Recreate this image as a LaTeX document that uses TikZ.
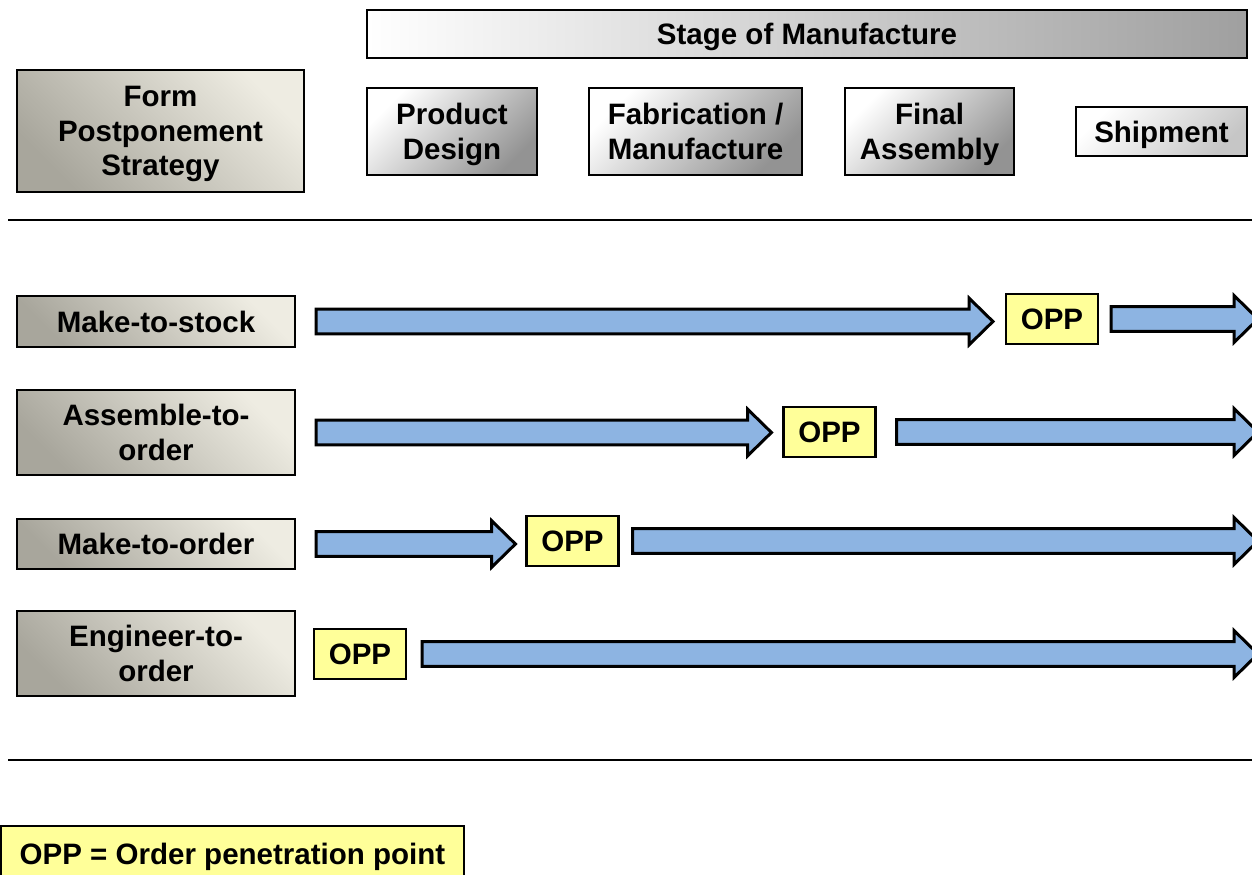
\documentclass[tikz,border=0pt]{standalone}
\usepackage{fontspec}
\setmainfont{Liberation Sans}
\usetikzlibrary{calc}

\definecolor{oppyellow}{RGB}{255,255,153}
\definecolor{flowblue}{RGB}{141,180,226}
\definecolor{beigelight}{RGB}{238,236,226}
\definecolor{beigedark}{RGB}{168,166,156}

% block arrow from one point to another (y taken from the start)
\newcommand{\flow}[2]{%
  \draw[flow] let \p1=(#1), \p2=(#2) in
    (\x1,\y1+7pt) -- (\x2-13.6pt,\y1+7pt) -- (\x2-13.6pt,\y1+13.3pt) -- (\x2,\y1)
    -- (\x2-13.6pt,\y1-13.3pt) -- (\x2-13.6pt,\y1-7pt) -- (\x1,\y1-7pt) -- cycle;}

\begin{document}
\begin{tikzpicture}[x=0.02cm,y=-0.02cm,
    font=\fontsize{16.8}{19.8}\selectfont\bfseries,
    box/.style={draw,line width=1.2pt,align=center,inner sep=0pt,text depth=0pt},
    strategy/.style={box,top color=beigelight,bottom color=beigedark,shading angle=-45,minimum width=5.56cm},
    stage/.style={box,top color=white,bottom color=gray!85,shading angle=45,minimum height=1.74cm},
    opp/.style={box,fill=oppyellow,minimum width=1.84cm,minimum height=1cm},
    flow/.style={line width=1.7pt,fill=flowblue,line join=miter},
    rule/.style={line width=1.7pt}]
  \useasboundingbox (0,0) rectangle (1252,875);
  \clip (0,0) rectangle (1252,875);

  % header
  \node[box,left color=white,right color=gray!75,minimum width=17.6cm,minimum height=0.96cm] (stagebar) at (807,34) {Stage of Manufacture};
  \node[strategy,minimum width=5.74cm,minimum height=2.44cm] (form) at (160.5,131) {Form\\Postponement\\Strategy};
  \node[stage,minimum width=3.4cm] (design) at (452,131.5) {Product\\Design};
  \node[stage,minimum width=4.26cm] (fab) at (695.5,131.5) {Fabrication /\\Manufacture};
  \node[stage,minimum width=3.38cm] (assembly) at (929.5,131.5) {Final\\Assembly};
  \node[stage,bottom color=gray!45,shading angle=45,minimum width=3.42cm,minimum height=0.98cm] (ship) at (1161.5,131.5) {Shipment};

  \draw[rule] (8,220) -- (1252,220);
  \draw[rule] (8,760) -- (1252,760);

  % strategies
  \foreach \n/\y/\h/\t in {mts/321.5/1.02/Make-to-stock,ato/432.5/1.7/Assemble-to-\\order,
                          mto/544/1.0/Make-to-order,eto/653.5/1.7/Engineer-to-\\order} {
    \node[strategy,minimum height=\h cm] (\n) at (156,\y) {\t};
  }

  \node[opp] (opp1) at (1052,319) {OPP};
  \node[opp] (opp2) at (829.5,432) {OPP};
  \node[opp] (opp3) at (572.5,541) {OPP};
  \node[opp] (opp4) at (360,654) {OPP};

  \coordinate (edge) at (1258,0);

  \flow{$(mts.east)+(20,0)$}{$(opp1.west)+(-12,0)$}
  \flow{$(opp1.east)+(12,0)$}{edge}
  \flow{$(ato.east)+(20,0)$}{$(opp2.west)+(-11,0)$}
  \flow{$(opp2.east)+(20,0)$}{edge}
  \flow{$(mto.east)+(20,0)$}{$(opp3.west)+(-10,0)$}
  \flow{$(opp3.east)+(13,0)$}{edge}
  \flow{$(opp4.east)+(15,0)$}{edge}

  % legend
  \node[box,fill=oppyellow,minimum width=9.26cm,minimum height=1.1cm] (legend) at (232.5,853.5) {OPP = Order penetration point};
\end{tikzpicture}
\end{document}
